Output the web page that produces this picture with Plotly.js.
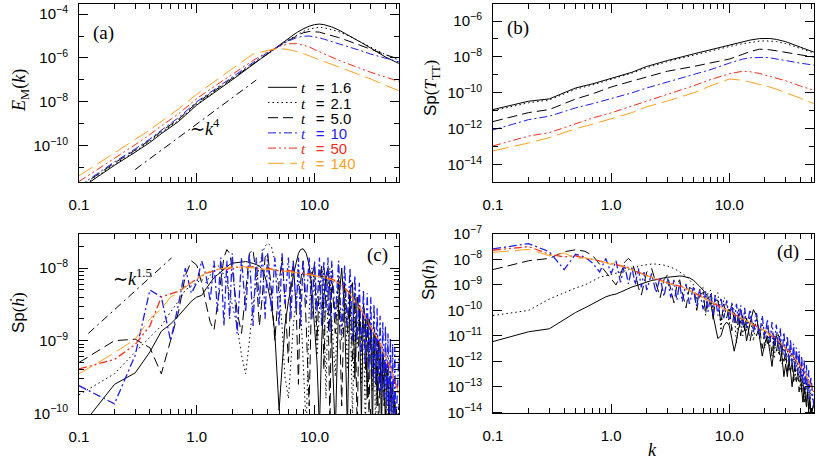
<!DOCTYPE html>
<html><head><meta charset="utf-8">
<script src="https://cdn.plot.ly/plotly-3.0.1.min.js"></script>
<style>html,body{margin:0;padding:0;background:#fff}#plot{width:830px;height:461px}</style>
</head><body><div id="plot"></div>
<script>
// ---------- DATA ----------
const times = ['1.6','2.1','5.0','10','50','140'];

// panel (a): E_M(k)
const kA = [0.1,0.2,0.3,0.4,0.5,0.7,1,1.5,2,3,4,5,6,7,8,9,10,11,12,14,16,20,25,30,40,52];
const emT16  = [1e-12,1.26e-11,5e-11,1.4e-10,3.5e-10,1.26e-9,7.1e-9,3.2e-8,1e-7,5e-7,1.6e-6,3.8e-6,7.9e-6,1.4e-5,2.1e-5,2.8e-5,3.3e-5,3.5e-5,3.3e-5,2.6e-5,1.9e-5,1e-5,5e-6,2.8e-6,1.1e-6,5.6e-7];
const emT21  = [1.1e-12,1.4e-11,5.6e-11,1.6e-10,4e-10,1.4e-9,7.9e-9,3.5e-8,1.07e-7,5.2e-7,1.6e-6,3.5e-6,6.6e-6,1.07e-5,1.6e-5,2.1e-5,2.4e-5,2.5e-5,2.4e-5,2e-5,1.6e-5,9.5e-6,5.2e-6,3.2e-6,1.4e-6,7.9e-7];
const emT50  = [1.26e-12,1.6e-11,6.3e-11,1.8e-10,4.5e-10,1.6e-9,8.9e-9,4e-8,1.2e-7,5.6e-7,1.66e-6,3.5e-6,6.3e-6,1e-5,1.4e-5,1.6e-5,1.6e-5,1.5e-5,1.3e-5,1.05e-5,8.5e-6,5.6e-6,3.5e-6,2.4e-6,1.4e-6,8.9e-7];
const emT10  = [1.4e-12,1.8e-11,7.1e-11,2e-10,5e-10,1.9e-9,1e-8,4.5e-8,1.3e-7,6.3e-7,1.8e-6,3.5e-6,5.9e-6,8.3e-6,9.8e-6,1e-5,9.3e-6,8.3e-6,7.2e-6,5.6e-6,4.5e-6,3.2e-6,2.1e-6,1.5e-6,9.5e-7,6.6e-7];
const emT50b = [2.3e-12,2.5e-11,1.1e-10,3.2e-10,7.9e-10,2.8e-9,1.4e-8,6.3e-8,1.8e-7,7.6e-7,1.9e-6,3.3e-6,4.4e-6,4.5e-6,3.8e-6,3.2e-6,2.4e-6,1.9e-6,1.6e-6,1.07e-6,7.9e-7,5e-7,3.2e-7,2.2e-7,1.35e-7,8.5e-8];
const emT140 = [4.2e-12,4.5e-11,1.9e-10,5.2e-10,1.26e-9,4.7e-9,2.2e-8,1e-7,3.2e-7,1.5e-6,2.2e-6,2.7e-6,2.4e-6,2e-6,1.6e-6,1.26e-6,1e-6,8.3e-7,7.1e-7,5e-7,3.8e-7,2.5e-7,1.6e-7,1.1e-7,5.6e-8,3.2e-8];
const refK4k = [0.3,3.2];
const refK4v = [8.1e-12,9.8e-8];

// panel (b): Sp(T_TT)
const kB = [0.1,0.2,0.3,0.5,0.7,1,1.5,2,3,5,7,10,13,15,18,20,22,25,30,40,52];
const tT16  = [1.17e-11,3.4e-11,4.6e-11,1.86e-10,3.2e-10,6.2e-10,1.4e-9,2.95e-9,6.3e-9,1.48e-8,2.6e-8,4.7e-8,7.1e-8,8.7e-8,1.05e-7,1.1e-7,1.07e-7,9.5e-8,7.1e-8,3.5e-8,1.86e-8];
const tT21  = [1e-11,2.8e-11,4e-11,1.6e-10,2.75e-10,5.4e-10,1.26e-9,2.5e-9,5.5e-9,1.26e-8,2.2e-8,3.8e-8,5.5e-8,6.6e-8,7.6e-8,7.9e-8,7.9e-8,7.2e-8,5.6e-8,3e-8,1.66e-8];
const tT50  = [2.5e-12,7.9e-12,1.17e-11,4.5e-11,8.9e-11,2.1e-10,4.5e-10,7.9e-10,1.6e-9,2.95e-9,4.7e-9,7.6e-9,1.4e-8,2e-8,2.7e-8,2.7e-8,2.5e-8,2.2e-8,1.8e-8,1.26e-8,9.8e-9];
const tT10  = [8.5e-13,3.2e-12,5e-12,1.45e-11,2.5e-11,4.6e-11,1e-10,1.86e-10,4e-10,1e-9,2e-9,4.5e-9,7.6e-9,8.9e-9,9.8e-9,9.5e-9,8.9e-9,7.9e-9,6.3e-9,4.5e-9,3.5e-9];
const tT50b = [1.1e-13,3.9e-13,6e-13,2e-12,4e-12,7.6e-12,1.8e-11,3.4e-11,7.9e-11,2.5e-10,5.6e-10,1.15e-9,1.6e-9,1.5e-9,1.2e-9,1e-9,8.5e-10,6.8e-10,4.7e-10,2.4e-10,1.38e-10];
const tT140 = [5.8e-14,1.6e-13,3.2e-13,1e-12,1.8e-12,3.5e-12,7.9e-12,1.66e-11,3.5e-11,1e-10,2.5e-10,5.9e-10,5e-10,4e-10,3e-10,2.5e-10,2.1e-10,1.6e-10,1.05e-10,5e-11,2.5e-11];

// panels (c),(d): wavenumber grid of the oscillating spectra
const kG = [0.1,0.2,0.3,0.4,0.5,0.6,0.7,0.8,0.9,1.0,
  1.1,1.2,1.3,1.4,1.5,1.6,1.7,1.8,1.9,2.0,
  2.2,2.4,2.6,2.8,3.0,3.2,3.4,3.6,3.8,4.0,
  4.3,4.6,5.0,5.3,5.6,6.0,6.3,6.6,7.0,7.3,
  7.6,8.0,8.5,9.0,9.5,10,10.5,11,11.5,12,
  12.5,13,13.5,14,15,16,17,18,19,20,
  21,22,23,24,25,26,27,28,29,30,
  31,32,33,34,35,36,37,38,39,40,
  41,42,43,44,45,46,47,48,49,52];
// grid of the smoother late-time spectra
const kR = [0.1,0.2,0.3,0.4,0.5,0.6,0.7,0.8,0.9,1.0,1.1,1.2,1.4,1.6,1.8,2.0,2.5,3,3.5,4,5,6,7,8,9,10,12,14,16,18,20,22,25,28,31,35,40,45,52];

// panel (c): Sp(h-dot)
const hdT16 = [6e-11,2.5e-10,3.6e-10,7e-10,1.35e-9,1.7e-9,2.2e-9,2.8e-9,3.5e-9,4.0e-9,
  4.2e-9,5.2e-9,6.3e-9,7.4e-9,8.1e-9,8.9e-9,9.8e-9,1.05e-8,1.12e-8,1.17e-8,
  1.2e-8,1.23e-8,1.23e-8,1.2e-8,1.17e-8,1.12e-8,1.07e-8,9.5e-9,7.6e-9,5.6e-9,
  3.2e-9,1.26e-9,1.1e-10,5e-10,1.6e-9,3.5e-9,5.6e-9,7.9e-9,1.2e-8,1.6e-8,
  1.8e-8,1.85e-8,1.6e-8,1.1e-8,5e-9,1.6e-9,5e-10,6e-11,1e-9,4e-9,
  7.9e-9,1e-8,5e-9,1e-9,5e-11,3.2e-9,1e-8,2.5e-9,6e-11,5e-9,
  6.3e-9,3e-10,4e-9,2.5e-9,8e-11,3.2e-9,2e-9,1.6e-10,2e-9,1.6e-9,
  6e-11,1.26e-9,1.26e-9,1.26e-10,1e-9,8e-10,6e-11,6.3e-10,5e-10,5e-11,
  4e-10,3.2e-10,3e-11,2.5e-10,2e-10,4e-11,1.6e-10,1.26e-10,3e-11,1e-10];
const hdT21 = [1.8e-10,3.5e-10,7e-10,1.1e-9,1.6e-9,2.5e-9,3.5e-9,5e-9,5.6e-9,6.3e-9,
  7e-9,6.3e-9,7.9e-9,1e-8,1.1e-8,1e-8,7.9e-9,6.3e-9,4.5e-9,3.2e-9,
  1.6e-9,6.3e-10,3.5e-10,1e-9,3.2e-9,6.3e-9,1.1e-8,1.6e-8,2e-8,2.2e-8,
  2e-8,1.26e-8,5e-9,1.6e-9,3.2e-10,1.6e-10,5e-10,1.6e-9,4e-9,6.3e-9,
  3.2e-9,5e-10,6e-11,2.5e-9,1e-8,6.3e-9,6.3e-10,2.5e-9,1.1e-8,4e-9,
  1.6e-10,5e-9,1e-8,2e-9,3.2e-10,7.9e-9,1e-9,6.3e-9,4e-10,5e-9,
  8e-11,4e-9,8e-10,3.2e-9,2.5e-10,2.5e-9,5e-11,2e-9,5e-10,1.6e-9,
  2e-10,1.26e-9,5e-11,1e-9,2.5e-10,8e-10,1e-10,6.3e-10,1.26e-10,5e-10,
  4e-11,4e-10,1.26e-10,3.2e-10,4e-11,2.5e-10,8e-11,2e-10,3e-11,1.4e-10];
const hdT50 = [5e-10,1e-9,1.05e-9,8e-10,3.5e-10,1e-9,2.5e-9,7.9e-9,1.26e-8,1.1e-8,
  6.3e-9,3.2e-9,1.8e-9,1.4e-9,3.2e-9,7.9e-9,1.4e-8,1.8e-8,1.6e-8,1e-8,
  2.5e-9,1.26e-9,5e-9,1.6e-8,1.8e-8,7.9e-9,1.6e-9,4e-9,1.4e-8,1.6e-8,
  5e-9,1e-9,6.3e-9,1.4e-8,4e-9,5e-10,6.3e-9,1.26e-8,2.5e-9,2.5e-10,
  6.3e-9,1.26e-8,1.6e-9,1.26e-10,7.9e-9,1.1e-8,1e-9,6.3e-9,1.1e-8,4e-10,
  7.9e-9,5e-9,6e-11,7.9e-9,1.26e-9,7e-9,1.26e-10,6.3e-9,1.26e-9,5e-9,
  5e-10,4.5e-9,6e-11,3.2e-9,1e-9,2.5e-9,4e-10,2e-9,1e-10,1.6e-9,
  6.3e-10,1.26e-9,2.5e-10,1e-9,4e-11,8e-10,3.2e-10,6.3e-10,1.26e-10,5e-10,
  2e-10,4e-10,5e-11,3.2e-10,1.26e-10,2.5e-10,8e-11,2e-10,5e-11,1.26e-10];
const hdT10 = [2.4e-10,1.35e-10,6.3e-10,5e-9,4e-9,1e-9,3.2e-9,1e-8,4.5e-9,6.3e-9,
  1.26e-8,7.9e-9,3.5e-9,1.26e-8,2.5e-9,1.4e-8,1.6e-9,1.26e-8,2e-9,1.6e-8,
  1.26e-9,1.4e-8,2.5e-9,1.6e-8,1.6e-9,1.4e-8,3.2e-9,1.8e-8,2e-9,1.6e-8,
  2.5e-9,1.4e-8,1.6e-9,1.6e-8,3.2e-9,1.4e-8,2e-9,1.26e-8,2.5e-9,1.4e-8,
  1.6e-9,1.26e-8,3.2e-9,1.4e-8,2e-9,1.26e-8,2.5e-9,1.4e-8,1.6e-9,1.26e-8,
  2.5e-9,1.4e-8,1.26e-9,1.26e-8,2e-9,1.26e-8,1.26e-9,1.1e-8,1.6e-9,1e-8,
  1e-9,7.9e-9,1e-9,6.3e-9,6.3e-10,5e-9,5e-10,4.5e-9,4e-10,4e-9,
  3.2e-10,3.2e-9,2.5e-10,2.8e-9,2e-10,2.2e-9,2e-10,1.8e-9,1.6e-10,1.6e-9,
  1.26e-10,1.26e-9,1e-10,1.1e-9,8e-11,9e-10,6e-11,8e-10,6e-11,6.3e-10];
const hdT50b = [4.1e-10,5.5e-10,8.9e-10,1.6e-9,4e-9,4.4e-9,4.8e-9,5.6e-9,6.3e-9,7.1e-9,7.9e-9,8.5e-9,9.1e-9,1e-8,9.5e-9,1.05e-8,1e-8,1.05e-8,9.5e-9,1e-8,9.1e-9,9.3e-9,8.7e-9,8.5e-9,8.3e-9,7.9e-9,7.6e-9,7.1e-9,6.3e-9,5.4e-9,4.4e-9,3.5e-9,2.6e-9,1.9e-9,1.4e-9,1e-9,6e-10,3.8e-10,1.9e-10];
const hdT140 = [3.5e-10,6.8e-10,1.05e-9,2e-9,2.75e-9,4e-9,4.6e-9,5.5e-9,6.3e-9,6.9e-9,7.9e-9,8.7e-9,9.3e-9,9.8e-9,1.02e-8,1e-8,1.05e-8,1e-8,9.8e-9,9.5e-9,9.3e-9,8.9e-9,8.7e-9,8.3e-9,8.1e-9,7.9e-9,7.4e-9,6.9e-9,6.2e-9,5.2e-9,4.4e-9,3.5e-9,2.6e-9,1.9e-9,1.4e-9,1e-9,6e-10,3.8e-10,1.9e-10];
const refK15k = [0.12,0.61];
const refK15v = [1.26e-9,1.38e-8];

// panel (d): Sp(h)
const hT16 = [6e-12,1.45e-11,1.9e-11,4.5e-11,8.3e-11,1.26e-10,1.8e-10,2.5e-10,3.4e-10,4e-10,
  4.4e-10,5.2e-10,6.3e-10,7.4e-10,8.3e-10,9.1e-10,1e-9,1.1e-9,1.2e-9,1.3e-9,
  1.5e-9,1.6e-9,1.8e-9,1.9e-9,2e-9,2.1e-9,2.2e-9,2.24e-9,2.24e-9,2.2e-9,
  2.1e-9,1.9e-9,1.5e-9,1.2e-9,8.9e-10,6.3e-10,4.8e-10,3.5e-10,1.6e-10,6.3e-11,
  2e-11,7.9e-12,1e-11,2.5e-11,3.5e-11,2.5e-11,7.9e-12,2.5e-12,6.3e-12,2e-11,
  4e-11,4.5e-11,2.5e-11,6.3e-12,3.2e-11,1.07e-10,6.3e-11,1e-11,1.6e-12,5e-12,
  1e-11,2.5e-12,6.3e-13,4e-12,1e-11,1.12e-11,6.3e-12,1.26e-12,2.5e-13,7.9e-13,
  2.5e-13,1e-12,4e-13,1e-13,4e-13,1e-12,1.4e-12,1.6e-12,1.26e-12,5e-13,
  7.9e-14,2.5e-14,1e-13,4e-14,1.6e-14,6.3e-14,1.26e-14,4e-14,6.3e-15,2.5e-14];
const hT21 = [6.3e-11,1e-10,2.8e-10,5e-10,7.6e-10,1e-9,1.4e-9,2e-9,2.3e-9,2.6e-9,
  2.8e-9,3.2e-9,3.5e-9,4e-9,4.5e-9,5e-9,5.4e-9,5.8e-9,6e-9,6.3e-9,
  6.6e-9,6.6e-9,6.5e-9,6e-9,5.5e-9,5e-9,4.4e-9,3.8e-9,3.2e-9,2.8e-9,
  2.2e-9,1.6e-9,1e-9,2.5e-10,6.3e-10,8e-10,6.3e-11,5e-10,6.3e-10,1e-10,
  4e-10,5e-10,1.6e-11,3.2e-10,2.5e-10,2.5e-11,2e-10,1e-10,5e-12,1.26e-10,
  5e-11,1e-11,1e-10,1.6e-11,6.3e-11,6.3e-12,5e-11,7.9e-12,3.2e-11,3.2e-12,
  2.5e-11,4e-12,1.6e-11,1.26e-12,1.26e-11,2e-12,7.9e-12,7.9e-13,5e-12,1e-12,
  3.2e-12,4e-13,2.5e-12,5e-13,1.6e-12,1.6e-13,1e-12,2e-13,6.3e-13,7.9e-14,
  4e-13,1e-13,2.5e-13,3.2e-14,1.6e-13,4e-14,1e-13,1.26e-14,6.3e-14,2e-14];
const hT50 = [4e-9,8.9e-9,1.1e-8,2e-8,2.4e-8,2.1e-8,1.4e-8,6.3e-9,3.2e-9,1.6e-9,
  1e-9,2.5e-9,7.9e-9,1.1e-8,7.9e-9,3.2e-9,8e-10,4e-10,1.26e-9,3.2e-9,
  4.5e-9,1.26e-9,3.2e-10,1.6e-9,2.5e-9,6.3e-10,2e-10,1e-9,1.6e-9,5e-10,
  1.26e-10,8e-10,6.3e-10,1e-10,4e-10,5e-10,7.9e-11,3.2e-10,3.5e-10,4e-11,
  2.5e-10,2.5e-10,3.2e-11,1.8e-10,5e-11,1.4e-10,1.6e-11,1e-10,2.5e-11,7.9e-11,
  1e-11,6.3e-11,1.6e-11,5e-11,6.3e-12,3.2e-11,1e-11,2.5e-11,3.2e-12,1.6e-11,
  5e-12,1.26e-11,1.6e-12,1e-11,2.5e-12,6.3e-12,1e-12,4e-12,1e-12,2.5e-12,
  4e-13,1.6e-12,4e-13,1e-12,1.6e-13,6.3e-13,1.6e-13,4e-13,6.3e-14,2.5e-13,
  6.3e-14,1.6e-13,2.5e-14,1e-13,2.5e-14,6.3e-14,1e-14,4e-14,7.9e-15,2e-14];
const hT10 = [2.6e-8,4.2e-8,2e-8,4e-9,1.6e-8,1.26e-8,7.1e-9,3.2e-9,1.1e-8,2.8e-9,
  8.9e-9,1.26e-9,6.3e-9,1.1e-9,5e-9,1e-9,4.5e-9,8e-10,3.2e-9,6.3e-10,
  2.8e-9,5e-10,2e-9,3.5e-10,1.8e-9,3.2e-10,1.6e-9,2.5e-10,1.26e-9,2.2e-10,
  1.1e-9,1.8e-10,8.9e-10,1.4e-10,7.1e-10,1.1e-10,5.6e-10,8.9e-11,5e-10,7.1e-11,
  4e-10,6.3e-11,3.2e-10,5e-11,2.5e-10,4e-11,2e-10,3.2e-11,1.8e-10,2.8e-11,
  1.6e-10,2.5e-11,1.26e-10,2e-11,1.1e-10,1.4e-11,7.9e-11,1e-11,6.3e-11,7.9e-12,
  4.5e-11,5.6e-12,3.5e-11,4e-12,2.8e-11,3.2e-12,2e-11,2e-12,1.4e-11,1.4e-12,
  1e-11,1e-12,7.1e-12,7.1e-13,5e-12,5e-13,3.5e-12,3.2e-13,2.5e-12,2.2e-13,
  1.6e-12,1.4e-13,1.1e-12,8.9e-14,7.1e-13,5.6e-14,4.5e-13,3.2e-14,2.5e-13,1.6e-14];
const hT50b = [2.3e-8,3.2e-8,1.6e-8,1.26e-8,1.4e-8,1.1e-8,1e-8,8.9e-9,7.9e-9,7.1e-9,6.3e-9,5.6e-9,4.8e-9,3.5e-9,2.8e-9,2.4e-9,1.6e-9,1.2e-9,1e-9,8.5e-10,5e-10,3.2e-10,2.2e-10,1.6e-10,1.2e-10,9.5e-11,6e-11,4e-11,2.8e-11,2e-11,1.6e-11,1.1e-11,7.9e-12,4.5e-12,2.8e-12,1.6e-12,6.3e-13,2.5e-13,6.3e-14];
const hT140 = [1.9e-8,2.5e-8,1.4e-8,1.8e-8,1.1e-8,1.17e-8,1e-8,8.3e-9,7.6e-9,6.3e-9,8.3e-9,6e-9,4.5e-9,3.5e-9,2.75e-9,2.3e-9,1.6e-9,1.17e-9,9.8e-10,8.3e-10,5e-10,3.2e-10,2.2e-10,1.6e-10,1.2e-10,9.5e-11,6e-11,4e-11,2.8e-11,2e-11,1.6e-11,1.1e-11,7.9e-12,4.5e-12,2.8e-12,1.6e-12,6.3e-13,2.5e-13,6.3e-14];

// tick labels
const xTickVals = [0.1,1,10];
const xTickText = ['0.1','1.0','10.0'];
const xMinor = [0.2,0.3,0.4,0.5,0.6,0.7,0.8,0.9,2,3,4,5,6,7,8,9,20,30,40,50];
const yTicksA = [1e-4,1e-6,1e-8,1e-10], yTextA = ['10<sup>−4</sup>','10<sup>−6</sup>','10<sup>−8</sup>','10<sup>−10</sup>'], yMinorA = [1e-5,1e-7,1e-9,1e-11];
const yTicksB = [1e-6,1e-8,1e-10,1e-12,1e-14], yTextB = ['10<sup>−6</sup>','10<sup>−8</sup>','10<sup>−10</sup>','10<sup>−12</sup>','10<sup>−14</sup>'], yMinorB = [1e-5,1e-7,1e-9,1e-11,1e-13,1e-15];
const yTicksC = [1e-8,1e-9,1e-10], yTextC = ['10<sup>−8</sup>','10<sup>−9</sup>','10<sup>−10</sup>'], yMinorC = [2e-10,3e-10,4e-10,5e-10,6e-10,7e-10,8e-10,9e-10,2e-9,3e-9,4e-9,5e-9,6e-9,7e-9,8e-9,9e-9,2e-8];
const yTicksD = [1e-7,1e-8,1e-9,1e-10,1e-11,1e-12,1e-13,1e-14], yTextD = ['10<sup>−7</sup>','10<sup>−8</sup>','10<sup>−9</sup>','10<sup>−10</sup>','10<sup>−11</sup>','10<sup>−12</sup>','10<sup>−13</sup>','10<sup>−14</sup>'];

// ---------- STYLES ----------
const BLUE = 'rgb(30,30,235)', RED = 'rgb(245,45,25)', ORANGE = 'rgb(255,160,30)';
const sty = [
  {color:'#000', dash:'solid'},
  {color:'#000', dash:'1.5px,3px'},
  {color:'#000', dash:'10px,5px'},
  {color:BLUE, dash:'8px,3px,2px,3px'},
  {color:RED, dash:'8px,3px,2px,3px,2px,3px'},
  {color:ORANGE, dash:'16px,6px'}
];
const SERIF = 'Liberation Serif, Times New Roman, serif';
const SANS = 'Liberation Sans, Arial, sans-serif';

function tr(x, y, i, ax, w) {
  return {type:'scatter', mode:'lines', x:x, y:y, xaxis:'x'+ax, yaxis:'y'+ax,
    line:{color:sty[i].color, dash:sty[i].dash, width:w||1}, hoverinfo:'skip', showlegend:false};
}
const traces = [];
const panels = [
  ['', [[kA,emT16],[kA,emT21],[kA,emT50],[kA,emT10],[kA,emT50b],[kA,emT140]]],
  ['2', [[kB,tT16],[kB,tT21],[kB,tT50],[kB,tT10],[kB,tT50b],[kB,tT140]]],
  ['3', [[kG,hdT16],[kG,hdT21],[kG,hdT50],[kG,hdT10],[kR,hdT50b],[kR,hdT140]]],
  ['4', [[kG,hT16],[kG,hT21],[kG,hT50],[kG,hT10],[kR,hT50b],[kR,hT140]]]
];
panels.forEach(([ax, ser]) => {
  const lower = (ax==='3'||ax==='4');
  ser.forEach((s, i) => {
    let w = 1;
    if (lower && i===3) w = 1.3;
    if (lower && i===4) w = 1.3;
    traces.push(tr(s[0], s[1], i, ax, w));
  });
});
traces.push({type:'scatter', mode:'lines', x:refK4k, y:refK4v, xaxis:'x', yaxis:'y',
  line:{color:'#000', dash:'8px,4px,2px,4px', width:1}, hoverinfo:'skip', showlegend:false});
traces.push({type:'scatter', mode:'lines', x:refK15k, y:refK15v, xaxis:'x3', yaxis:'y3',
  line:{color:'#000', dash:'8px,4px,2px,4px', width:1}, hoverinfo:'skip', showlegend:false});

function logAxis(domain, range, anchor, tv, tt, minorVals, standoff) {
  const a = {type:'log', domain:domain, range:range, anchor:anchor, autorange:false,
    showgrid:false, zeroline:false, showline:true, mirror:'allticks',
    linecolor:'#000', linewidth:1, ticks:'inside', ticklen:9, tickwidth:1, tickcolor:'#000',
    tickmode:'array', tickvals:tv, ticktext:tt,
    tickfont:{family:SANS, size:15, color:'#000'}, ticklabelstandoff:standoff};
  if (minorVals) a.minor = {tickmode:'array', tickvals:minorVals, ticks:'inside', ticklen:5, tickwidth:1, tickcolor:'#000', showgrid:false};
  return a;
}
const XR = [-1, 1.717];
const dxL = [79/830, 399/830], dxR = [493/830, 814/830];
const dyT = [1-182/461, 1-4/461], dyB = [1-414/461, 1-234/461];

const layout = {
  width:830, height:461, margin:{l:0,r:0,t:0,b:0}, paper_bgcolor:'#fff', plot_bgcolor:'#fff',
  showlegend:false,
  xaxis: logAxis(dxL, XR, 'y', xTickVals, xTickText, xMinor, 9),
  yaxis: logAxis(dyT, [-11.66,-3.54], 'x', yTicksA, yTextA, yMinorA, 7),
  xaxis2: logAxis(dxR, XR, 'y2', xTickVals, xTickText, xMinor, 9),
  yaxis2: logAxis(dyT, [-14.97,-5.05], 'x2', yTicksB, yTextB, yMinorB, 7),
  xaxis3: logAxis(dxL, XR, 'y3', xTickVals, xTickText, xMinor, 9),
  yaxis3: logAxis(dyB, [-10.01,-7.53], 'x3', yTicksC, yTextC, yMinorC, 7),
  xaxis4: logAxis(dxR, XR, 'y4', xTickVals, xTickText, xMinor, 9),
  yaxis4: logAxis([1-413.3/461, 1-234/461], [-14.04,-7.0], 'x4', yTicksD, yTextD, null, 7),
  annotations: [], shapes: []
};
function ann(x, y, text, size, family, extra) {
  return Object.assign({xref:'paper', yref:'paper', x:x/830, y:1-y/461, text:text, showarrow:false,
    xanchor:'center', yanchor:'middle', font:{family:family, size:size, color:'#000'}}, extra||{});
}
const A = layout.annotations;
A.push(ann(103, 33, '(a)', 19, SERIF));
A.push(ann(518, 28, '(b)', 19, SERIF));
A.push(ann(377, 255, '(c)', 19, SERIF));
A.push(ann(788, 252, '(d)', 19, SERIF));
A.push(ann(205, 127, '∼<i>k</i><sup>4</sup>', 18, SERIF));
A.push(ann(132, 277, '∼<i>k</i><sup>1.5</sup>', 18, SERIF));
A.push(ann(20, 91, '<i>E</i><sub>M</sub>(<i>k</i>)', 18, SERIF, {textangle:-90}));
A.push(ann(432, 88, '<span style="font-family:Liberation Sans">Sp</span>(<i>T</i><sub>TT</sub>)', 17, SERIF, {textangle:-90}));
A.push(ann(18, 313, '<span style="font-family:Liberation Sans">Sp</span>(<i>ḣ</i>)', 17, SERIF, {textangle:-90}));
A.push(ann(428, 280, '<span style="font-family:Liberation Sans">Sp</span>(<i>h</i>)', 17, SERIF, {textangle:-90}));
A.push(ann(652, 450, '<i>k</i>', 18, SERIF));

// legend (panel a)
const legColors = ['#000','#000','#000',BLUE,RED,ORANGE];
times.forEach((t, i) => {
  const yy = 87.3 + 15.2*i;
  layout.shapes.push({type:'line', xref:'paper', yref:'paper', x0:268/830, x1:297/830, y0:1-yy/461, y1:1-yy/461,
    line:{color:sty[i].color, dash:sty[i].dash, width:1}});
  A.push(ann(300, yy, '<span style="font-family:Liberation Serif"><i>t</i></span>\u2002\u2009=\u2009\u2009' + t, 15, SANS,
    {xanchor:'left', height:14, borderpad:0, font:{family:SANS, size:15, color:legColors[i]}}));
});

Plotly.newPlot('plot', traces, layout, {displayModeBar:false, staticPlot:true});
</script></body></html>
